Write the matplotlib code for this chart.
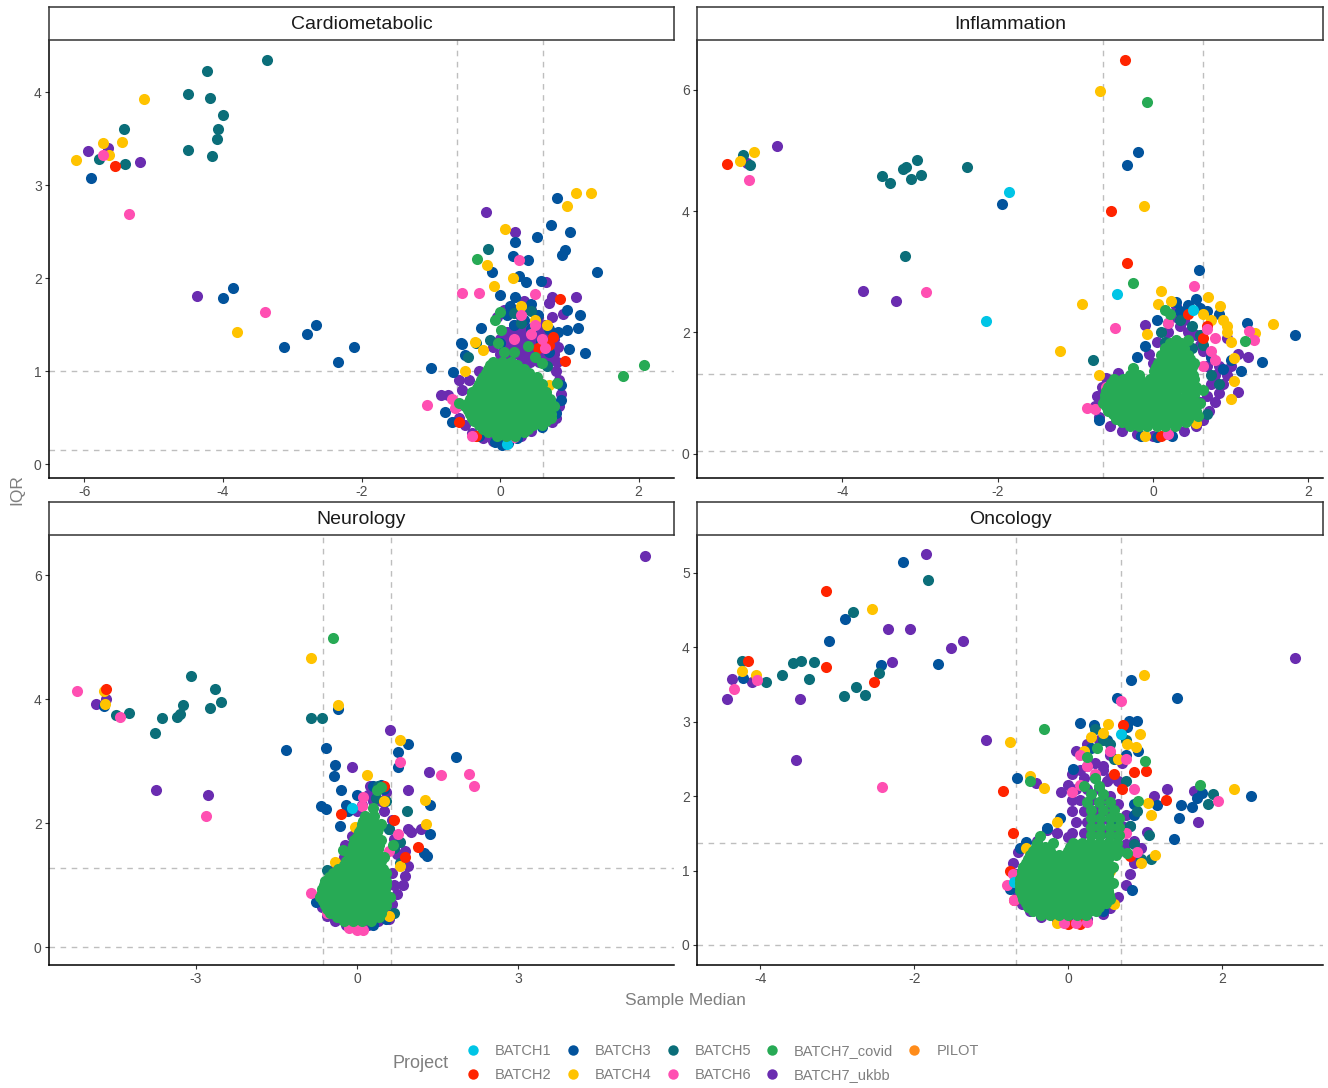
import matplotlib
matplotlib.use("Agg")
import matplotlib.pyplot as plt
from matplotlib.lines import Line2D

plt.rcParams["font.family"] = ["Liberation Sans", "DejaVu Sans"]
plt.rcParams["axes.unicode_minus"] = False

# legend order and colours (ggplot-like palette)
batches = ["BATCH1", "BATCH2", "BATCH3", "BATCH4", "BATCH5", "BATCH6",
           "BATCH7_covid", "BATCH7_ukbb", "PILOT"]
batch_colors = ["#00C5E6", "#FF2400", "#02539C", "#FFC300", "#0B6E79",
                "#FF4FB2", "#27AA55", "#6A2CB0", "#FF8C1A"]

# ---------------- Cardiometabolic ----------------
cm_vlines = [-0.62, 0.62]
cm_hlines = [0.15, 1.0]
cm_b1 = [(0.10, 0.22)]
cm_b2 = [(-5.56, 3.20), (0.86, 1.78), (0.93, 1.11), (0.76, 1.37), (-0.60, 0.45),
         (0.55, 1.25), (0.70, 1.28), (-0.35, 0.30)]
cm_b3 = [(-5.90, 3.08), (-4.00, 1.79), (-3.86, 1.89), (-3.12, 1.26), (-2.79, 1.40),
         (-2.66, 1.49), (-2.34, 1.10), (-2.11, 1.26), (-1.00, 1.03), (-0.56, 1.30),
         (-0.68, 0.99), (0.22, 2.39), (0.54, 2.44), (0.74, 2.57), (1.01, 2.49),
         (0.82, 2.86), (0.19, 2.24), (0.41, 2.19), (0.90, 2.25), (0.94, 2.30),
         (1.40, 2.06), (-0.11, 2.06), (0.28, 2.02), (0.38, 1.96), (0.59, 1.97),
         (0.00, 1.82), (0.22, 1.80), (1.16, 1.60), (0.97, 1.66), (-0.27, 1.46),
         (-0.50, 1.17), (1.12, 1.46), (0.97, 1.44), (0.84, 1.42), (1.22, 1.19),
         (1.00, 1.24), (0.88, 0.85), (0.88, 0.69), (0.59, 1.31), (-0.55, 1.29),
         (-0.79, 0.56), (-0.70, 0.45), (0.03, 0.20), (-0.08, 0.24), (0.12, 0.23),
         (0.25, 0.28), (-0.30, 0.30), (0.60, 0.40), (0.80, 0.55), (0.70, 1.20),
         (0.45, 1.45), (0.00, 1.30), (0.15, 1.70), (0.30, 1.65), (0.45, 1.72),
         (0.10, 1.60), (0.35, 1.55), (0.55, 1.60), (0.20, 1.50), (0.70, 1.45)]
cm_b4 = [(-6.12, 3.27), (-5.73, 3.45), (-5.64, 3.32), (-5.46, 3.46), (-5.14, 3.93),
         (-3.79, 1.42), (0.07, 2.53), (1.10, 2.91), (1.31, 2.91), (0.97, 2.77),
         (-0.19, 2.14), (-0.09, 1.92), (0.18, 2.00), (0.67, 1.50), (-0.36, 1.31),
         (-0.24, 1.23), (0.50, 1.55), (0.70, 0.85), (-0.50, 1.00), (0.30, 1.70)]
cm_b5 = [(-5.79, 3.28), (-5.43, 3.60), (-5.42, 3.23), (-4.51, 3.98), (-4.23, 4.23),
         (-4.18, 3.94), (-4.00, 3.75), (-4.07, 3.60), (-4.09, 3.50), (-4.50, 3.38),
         (-4.16, 3.31), (-3.37, 4.35), (-0.18, 2.31), (-0.14, 1.33), (-0.46, 1.15),
         (0.20, 1.62), (0.45, 1.65), (-0.35, 1.30), (0.68, 1.05), (0.30, 1.52)]
cm_b6 = [(-5.73, 3.32), (-5.35, 2.69), (-3.39, 1.64), (-1.05, 0.64), (-0.55, 1.84),
         (-0.30, 1.84), (0.51, 1.83), (0.27, 2.19), (0.30, 1.60), (0.45, 1.40),
         (0.60, 1.35), (0.20, 1.35), (0.65, 1.25), (-0.65, 0.60), (-0.40, 0.30),
         (0.20, 0.29), (-0.70, 0.70), (0.50, 1.50)]
cm_ukbb = [(-5.94, 3.37), (-5.66, 3.40), (-5.69, 3.33), (-5.20, 3.25), (-4.37, 1.81),
           (-0.21, 2.71), (0.21, 2.49), (0.66, 1.96), (1.10, 1.80), (0.70, 1.73),
           (0.91, 1.61), (-0.85, 0.74), (-0.75, 0.74), (-0.62, 0.62), (-0.60, 0.50),
           (-0.55, 0.80), (-0.50, 0.42), (-0.45, 0.90), (-0.40, 0.33), (-0.30, 1.00),
           (-0.60, 0.90), (-0.25, 0.28), (-0.10, 0.25), (0.10, 0.27), (0.30, 0.30),
           (0.45, 0.36), (0.60, 0.42), (0.80, 0.50), (0.85, 0.62), (0.88, 0.75),
           (0.85, 0.90), (0.80, 1.00), (0.75, 0.45), (0.75, 1.80), (0.35, 1.75)]
cm_ukbb_rows = [
    (1.10, [0.30, 0.43, 0.56, 0.69, 0.82]),
    (1.18, [0.00, 0.13, 0.26, 0.39, 0.52, 0.65, 0.78]),
    (1.26, [-0.10, 0.06, 0.19, 0.32, 0.45, 0.58, 0.71, 0.84]),
    (1.34, [0.00, 0.13, 0.26, 0.39, 0.52, 0.65, 0.78]),
    (1.42, [0.10, 0.23, 0.36, 0.49, 0.62]),
    (1.50, [0.20, 0.35, 0.50, 0.65]),
    (1.58, [-0.05, 0.30, 0.55, 0.75]),
    (1.66, [0.05, 0.25, 0.45]),
]
cm_covid = [(-0.59, 0.66), (0.00, 1.64), (0.01, 1.44), (-0.03, 1.30), (0.41, 1.27),
            (0.60, 1.09), (0.82, 0.87), (0.05, 1.20), (0.20, 1.20), (-0.07, 1.55),
            (0.72, 0.60), (0.50, 1.15), (1.77, 0.95), (2.08, 1.07), (-0.33, 2.21)]
cm_covid_rows = [
    (0.30, [-0.05, 0.08, 0.21]),
    (0.34, [-0.18, -0.05, 0.08, 0.21, 0.34]),
    (0.38, [-0.25, -0.12, 0.01, 0.14, 0.27, 0.40]),
    (0.42, [-0.31, -0.18, -0.05, 0.08, 0.21, 0.34, 0.47, 0.60]),
    (0.46, [-0.38, -0.25, -0.12, 0.01, 0.14, 0.27, 0.40, 0.53, 0.66]),
    (0.50, [-0.41, -0.28, -0.15, -0.02, 0.11, 0.24, 0.37, 0.50, 0.63, 0.74]),
    (0.54, [-0.44, -0.31, -0.18, -0.05, 0.08, 0.21, 0.34, 0.47, 0.60, 0.73]),
    (0.58, [-0.47, -0.34, -0.21, -0.08, 0.05, 0.18, 0.31, 0.44, 0.57, 0.70]),
    (0.62, [-0.50, -0.38, -0.25, -0.12, 0.01, 0.14, 0.27, 0.40, 0.53, 0.66, 0.78]),
    (0.66, [-0.47, -0.34, -0.21, -0.08, 0.05, 0.18, 0.31, 0.44, 0.57, 0.70]),
    (0.70, [-0.44, -0.31, -0.18, -0.05, 0.08, 0.21, 0.34, 0.47, 0.60, 0.72]),
    (0.74, [-0.40, -0.27, -0.14, -0.01, 0.12, 0.25, 0.38, 0.51, 0.64]),
    (0.78, [-0.40, -0.25, -0.12, 0.01, 0.14, 0.27, 0.40, 0.53, 0.66]),
    (0.82, [-0.34, -0.21, -0.08, 0.05, 0.18, 0.31, 0.44, 0.57]),
    (0.86, [-0.31, -0.18, -0.05, 0.08, 0.21, 0.34, 0.47, 0.60]),
    (0.90, [-0.28, -0.15, -0.02, 0.11, 0.24, 0.37, 0.50]),
    (0.94, [-0.25, -0.12, 0.01, 0.14, 0.27, 0.40, 0.53]),
    (0.98, [-0.21, -0.08, 0.05, 0.18, 0.31, 0.42]),
    (1.02, [-0.18, -0.05, 0.08, 0.21, 0.34]),
    (1.06, [-0.14, -0.01, 0.12, 0.25]),
    (1.10, [-0.10, 0.03, 0.16]),
]

# ---------------- Inflammation ----------------
inf_vlines = [-0.64, 0.65]
inf_hlines = [0.05, 1.32]
inf_b1 = [(-1.85, 4.31), (-2.15, 2.19), (-0.46, 2.63), (0.52, 2.37)]
inf_b2 = [(-5.48, 4.78), (-0.36, 6.49), (-0.54, 4.00), (-0.33, 3.14), (0.45, 2.30),
          (0.70, 2.10), (0.65, 1.90), (0.10, 0.30)]
inf_b3 = [(-1.94, 4.11), (-0.19, 4.97), (-0.34, 4.76), (0.59, 3.03), (1.83, 1.95),
          (1.40, 1.52), (1.21, 2.16), (1.13, 1.36), (-0.10, 1.77), (0.30, 2.50),
          (0.45, 2.45), (0.60, 2.40), (0.70, 2.35), (0.85, 2.30), (0.55, 2.55),
          (0.75, 1.60), (1.00, 1.55), (-0.20, 1.60), (0.35, 2.35), (0.05, 2.20),
          (0.90, 1.40), (-0.15, 0.30), (0.05, 0.28), (0.25, 0.30), (-0.70, 0.55)]
inf_b4 = [(-5.32, 4.82), (-5.14, 4.98), (-1.19, 1.69), (-0.91, 2.47), (-0.68, 5.98),
          (-0.11, 4.09), (0.10, 2.68), (0.71, 2.59), (0.86, 2.44), (1.54, 2.14),
          (1.31, 1.99), (1.05, 1.57), (-0.08, 1.98), (0.06, 2.46), (0.23, 2.51),
          (0.90, 2.20), (0.95, 2.10), (0.95, 2.00), (1.00, 1.85), (0.65, 2.30),
          (0.75, 2.20), (1.05, 1.20), (1.00, 0.90), (0.55, 0.50), (-0.70, 1.30),
          (-0.10, 0.30)]
inf_b5 = [(-5.28, 4.93), (-5.19, 4.76), (-3.49, 4.58), (-3.39, 4.47), (-3.22, 4.70),
          (-3.18, 4.72), (-3.11, 4.53), (-3.04, 4.84), (-2.98, 4.60), (-2.39, 4.72),
          (-3.19, 3.26), (-0.77, 1.55), (0.10, 2.00), (0.20, 2.15), (0.35, 2.20),
          (0.50, 2.10), (0.60, 1.95), (0.65, 1.80), (0.50, 1.75), (0.15, 1.85),
          (0.75, 1.30), (0.85, 1.15), (0.70, 0.65)]
inf_b6 = [(-5.20, 4.51), (-2.92, 2.66), (-0.49, 2.07), (0.53, 2.76), (1.24, 2.03),
          (1.30, 1.88), (0.80, 1.90), (0.75, 1.70), (0.80, 1.55), (0.65, 1.45),
          (0.70, 2.05), (-0.85, 0.75), (-0.75, 0.73), (-0.60, 1.10), (0.20, 0.32),
          (0.20, 2.16)]
inf_ukbb = [(-5.28, 4.84), (-5.23, 4.80), (-4.84, 5.07), (-3.73, 2.69), (-3.31, 2.52),
            (1.09, 1.01), (1.23, 1.60), (1.09, 1.64), (0.96, 1.91), (-0.10, 2.13),
            (0.30, 2.43), (-0.55, 0.45), (-0.40, 0.38), (-0.20, 0.33), (0.00, 0.30),
            (0.20, 0.32), (0.40, 0.38), (0.55, 0.45), (-0.75, 0.78), (-0.72, 0.95),
            (-0.70, 0.60), (-0.65, 1.10), (-0.60, 1.25), (-0.45, 1.33), (0.65, 0.55),
            (0.72, 0.70), (0.80, 0.85), (0.70, 0.95), (0.85, 1.00), (0.75, 1.15),
            (0.90, 1.15), (0.95, 1.30), (0.80, 1.30), (0.70, 1.45), (0.85, 1.45),
            (1.00, 1.45), (0.75, 1.60), (0.65, 1.70), (0.00, 1.50), (-0.05, 1.65),
            (0.05, 1.85), (0.20, 2.00), (0.35, 2.10), (0.45, 2.00), (0.55, 1.95),
            (0.60, 1.80), (0.30, 2.25), (0.40, 2.20), (0.60, 0.85)]
inf_ukbb_rows = []
inf_covid = [(-0.07, 5.80), (-0.26, 2.82), (1.18, 1.86), (0.16, 2.37), (0.65, 1.05),
             (0.58, 0.62), (-0.25, 1.41), (0.22, 2.30)]
inf_covid_rows = [
    (0.45, [-0.30, -0.18, -0.07, 0.05, 0.16, 0.28]),
    (0.52, [-0.40, -0.28, -0.16, -0.04, 0.08, 0.20, 0.32, 0.42]),
    (0.58, [-0.48, -0.36, -0.24, -0.13, -0.01, 0.10, 0.22, 0.33, 0.45]),
    (0.65, [-0.52, -0.41, -0.30, -0.18, -0.07, 0.05, 0.16, 0.28, 0.39, 0.50]),
    (0.71, [-0.58, -0.47, -0.36, -0.24, -0.13, -0.01, 0.10, 0.22, 0.33, 0.45, 0.55]),
    (0.78, [-0.60, -0.49, -0.38, -0.27, -0.15, -0.04, 0.08, 0.19, 0.30, 0.42, 0.53]),
    (0.84, [-0.64, -0.52, -0.41, -0.30, -0.18, -0.07, 0.05, 0.16, 0.28, 0.39, 0.50, 0.60]),
    (0.91, [-0.62, -0.51, -0.40, -0.28, -0.17, -0.05, 0.06, 0.18, 0.29, 0.41, 0.52]),
    (0.97, [-0.62, -0.50, -0.39, -0.27, -0.16, -0.04, 0.07, 0.19, 0.30, 0.42, 0.53]),
    (1.04, [-0.60, -0.49, -0.38, -0.27, -0.15, -0.04, 0.08, 0.19, 0.30, 0.42, 0.53]),
    (1.10, [-0.58, -0.47, -0.36, -0.24, -0.13, -0.01, 0.10, 0.22, 0.33, 0.45, 0.55]),
    (1.17, [-0.54, -0.43, -0.32, -0.20, -0.09, 0.03, 0.14, 0.26, 0.37, 0.48]),
    (1.23, [-0.50, -0.39, -0.27, -0.16, -0.04, 0.07, 0.19, 0.30, 0.42, 0.53]),
    (1.30, [-0.30, -0.18, 0.05, 0.17, 0.28, 0.40, 0.52]),
    (1.36, [0.02, 0.13, 0.25, 0.36, 0.48]),
    (1.43, [0.04, 0.15, 0.27, 0.38, 0.50]),
    (1.49, [0.07, 0.19, 0.30, 0.42, 0.53]),
    (1.56, [0.12, 0.24, 0.36, 0.48]),
    (1.62, [0.10, 0.22, 0.33, 0.45]),
    (1.69, [0.16, 0.28, 0.40]),
    (1.75, [0.15, 0.28, 0.40]),
    (1.82, [0.22, 0.36]),
    (1.88, [0.30, 0.45]),
]

# ---------------- Neurology ----------------
neu_vlines = [-0.63, 0.63]
neu_hlines = [0.0, 1.28]
neu_b1 = [(-0.10, 2.25)]
neu_b2 = [(-4.68, 4.17), (-0.30, 2.15), (1.13, 1.61), (0.50, 2.60), (0.70, 2.05),
          (0.90, 1.45)]
neu_b3 = [(-4.72, 3.89), (-1.32, 3.18), (-0.36, 3.84), (-0.57, 3.22), (-0.40, 2.94),
          (-0.43, 2.76), (-0.29, 2.54), (-0.67, 2.28), (-0.58, 2.23), (-0.17, 2.19),
          (-0.32, 1.95), (-0.77, 0.73), (0.96, 3.27), (0.77, 3.15), (0.77, 2.90),
          (1.85, 3.06), (1.37, 2.29), (1.36, 1.83), (1.25, 1.52), (1.31, 1.47),
          (0.30, 2.60), (0.45, 2.62), (0.50, 2.55), (-0.20, 2.30), (0.00, 2.45),
          (0.60, 1.90), (0.55, 0.45), (0.30, 0.35)]
neu_b4 = [(-4.72, 4.13), (-4.70, 3.92), (-0.86, 4.67), (-0.36, 3.91), (0.18, 2.77),
          (-0.04, 1.93), (-0.40, 1.38), (0.80, 3.34), (1.27, 2.38), (1.28, 1.98),
          (0.50, 2.35), (0.80, 1.30), (0.60, 0.50)]
neu_b5 = [(-4.50, 3.75), (-4.24, 3.77), (-3.77, 3.46), (-3.63, 3.69), (-3.35, 3.72),
          (-3.29, 3.76), (-3.25, 3.90), (-3.10, 4.38), (-2.73, 3.86), (-2.65, 4.16),
          (-2.54, 3.96), (-0.85, 3.70), (-0.65, 3.69), (0.94, 2.19), (0.35, 2.40),
          (0.55, 2.35), (0.40, 2.60), (0.70, 1.60), (0.80, 1.35), (0.60, 1.90),
          (-0.55, 1.25), (0.70, 0.55), (0.80, 1.70)]
neu_b6 = [(-5.21, 4.13), (-4.41, 3.72), (-2.81, 2.11), (-0.86, 0.88), (0.80, 2.99),
          (1.56, 2.78), (2.08, 2.79), (2.19, 2.60), (0.00, 0.28), (0.12, 0.27),
          (-0.15, 0.30), (-0.55, 0.55), (0.77, 1.83), (0.12, 2.42), (0.09, 2.27),
          (0.60, 1.55)]
neu_ukbb = [(-4.87, 3.93), (-4.68, 4.00), (-3.74, 2.54), (-2.78, 2.45), (-0.10, 2.91),
            (-0.23, 1.65), (0.62, 3.51), (1.34, 2.82), (0.95, 2.54), (1.19, 1.91),
            (5.37, 6.31), (0.55, 0.55), (0.65, 0.70), (0.75, 0.85), (0.85, 1.00),
            (0.90, 1.15), (0.95, 1.30), (0.85, 1.40), (0.75, 1.50), (0.90, 1.55),
            (0.70, 1.75), (1.00, 1.85), (0.95, 1.90), (0.65, 2.05), (0.45, 2.35),
            (0.50, 2.20), (0.30, 2.35), (0.20, 2.45), (0.55, 2.50), (0.10, 2.30),
            (0.00, 2.20), (-0.10, 1.80), (0.65, 1.20), (0.70, 1.00), (0.60, 0.45),
            (-0.65, 0.65), (-0.70, 0.80), (-0.55, 0.50), (-0.40, 0.42), (-0.20, 0.35),
            (0.00, 0.32), (0.20, 0.35), (0.40, 0.42), (-0.60, 1.05), (-0.45, 1.25),
            (-0.25, 1.45), (0.25, 2.60)]
neu_ukbb_rows = []
neu_covid = [(-0.44, 4.98), (0.37, 2.53), (0.45, 2.58), (-0.26, 1.56), (0.67, 1.65),
             (0.30, 2.25)]
neu_covid_rows = [
    (0.42, [-0.25, -0.08, 0.09, 0.26]),
    (0.48, [-0.38, -0.21, -0.04, 0.13, 0.30, 0.42]),
    (0.55, [-0.50, -0.33, -0.16, 0.01, 0.18, 0.35, 0.45]),
    (0.61, [-0.55, -0.38, -0.21, -0.04, 0.13, 0.30, 0.47]),
    (0.68, [-0.60, -0.43, -0.26, -0.09, 0.08, 0.25, 0.42, 0.55]),
    (0.74, [-0.64, -0.47, -0.30, -0.13, 0.04, 0.21, 0.38, 0.55]),
    (0.81, [-0.68, -0.51, -0.34, -0.17, 0.00, 0.17, 0.34, 0.51, 0.62]),
    (0.87, [-0.66, -0.49, -0.32, -0.15, 0.02, 0.19, 0.36, 0.53]),
    (0.94, [-0.66, -0.49, -0.32, -0.15, 0.02, 0.19, 0.36, 0.53]),
    (1.00, [-0.62, -0.45, -0.28, -0.11, 0.06, 0.23, 0.40, 0.55]),
    (1.07, [-0.60, -0.43, -0.26, -0.09, 0.08, 0.25, 0.42, 0.55]),
    (1.13, [-0.52, -0.35, -0.18, -0.01, 0.16, 0.33, 0.48]),
    (1.20, [-0.45, -0.28, -0.11, 0.06, 0.23, 0.40, 0.55]),
    (1.26, [-0.35, -0.18, -0.01, 0.16, 0.33, 0.48]),
    (1.33, [-0.25, -0.10, 0.07, 0.24, 0.41]),
    (1.39, [-0.20, -0.04, 0.13, 0.30, 0.45]),
    (1.46, [-0.15, 0.01, 0.18, 0.35, 0.50]),
    (1.52, [-0.12, 0.05, 0.22, 0.38]),
    (1.59, [-0.10, 0.08, 0.25, 0.40]),
    (1.65, [-0.07, 0.10, 0.27, 0.42]),
    (1.72, [-0.05, 0.12, 0.29, 0.45]),
    (1.78, [0.00, 0.17, 0.34]),
    (1.85, [0.04, 0.21, 0.38]),
    (1.91, [0.07, 0.24, 0.40]),
    (1.98, [0.10, 0.27, 0.44]),
    (2.04, [0.12, 0.29]),
    (2.11, [0.15, 0.32]),
]

# ---------------- Oncology ----------------
onc_vlines = [-0.675, 0.69]
onc_hlines = [0.0, 1.37]
onc_b1 = [(0.69, 2.83), (-0.70, 0.85)]
onc_b2 = [(-4.16, 3.81), (-3.15, 3.74), (-3.14, 4.76), (-2.52, 3.53), (-0.84, 2.07),
          (-0.72, 1.50), (0.71, 2.96), (0.85, 2.33), (1.01, 2.34), (1.27, 1.95),
          (0.60, 2.30), (0.70, 2.10), (-0.75, 1.00), (-0.70, 0.60), (0.15, 0.28),
          (0.00, 0.28), (0.80, 1.20)]
onc_b3 = [(-4.22, 3.59), (-3.10, 4.08), (-2.90, 4.38), (-2.43, 3.76), (-2.14, 5.15),
          (-1.69, 3.78), (-0.67, 2.25), (-0.10, 1.71), (-0.28, 1.57), (0.15, 2.98),
          (0.34, 2.96), (0.63, 3.32), (0.82, 3.56), (0.79, 3.01), (0.89, 3.01),
          (0.77, 2.93), (0.91, 2.61), (0.06, 2.36), (1.42, 3.32), (1.15, 1.88),
          (1.46, 1.88), (1.61, 1.85), (1.44, 1.71), (1.38, 1.43), (1.74, 2.04),
          (1.68, 1.98), (2.37, 2.00), (-0.62, 1.30), (-0.55, 1.38), (-0.75, 0.75),
          (0.10, 0.32), (-0.10, 0.32), (0.45, 0.45), (0.83, 0.74), (0.80, 1.60),
          (0.85, 1.75), (0.85, 1.90), (0.30, 2.65), (0.50, 2.75), (0.75, 2.55)]
onc_b4 = [(-4.23, 3.68), (-4.05, 3.63), (-2.55, 4.51), (-0.75, 2.73), (-0.49, 2.27),
          (-0.31, 2.11), (-0.14, 1.65), (0.52, 2.97), (0.98, 3.63), (0.93, 2.83),
          (0.76, 2.70), (0.88, 2.66), (1.04, 1.91), (1.08, 1.74), (2.15, 2.09),
          (1.13, 1.21), (0.30, 2.80), (0.45, 2.85), (0.20, 2.60), (0.65, 2.50),
          (0.55, 1.00), (0.60, 0.55), (-0.55, 1.30), (0.95, 1.10), (-0.15, 0.30)]
onc_b5 = [(-4.23, 3.81), (-3.93, 3.53), (-3.71, 3.63), (-3.57, 3.79), (-3.47, 3.81),
          (-3.30, 3.80), (-3.37, 3.57), (-2.80, 4.48), (-2.91, 3.34), (-2.76, 3.47),
          (-2.64, 3.36), (-2.46, 3.65), (-1.82, 4.91), (1.81, 1.89), (1.88, 2.03),
          (1.08, 1.15), (1.05, 1.48), (0.45, 2.75), (0.55, 2.70), (0.35, 2.90),
          (0.60, 2.50), (0.75, 2.20), (0.90, 1.80), (0.80, 1.60), (0.85, 1.35),
          (0.95, 1.15), (0.60, 1.70), (0.75, 2.75)]
onc_b6 = [(-4.34, 3.44), (-4.04, 3.56), (-2.42, 2.12), (0.69, 3.28), (1.94, 1.94),
          (0.25, 2.40), (0.35, 2.30), (0.15, 2.15), (0.05, 2.05), (0.75, 2.50),
          (0.85, 2.10), (-0.80, 0.80), (-0.72, 0.95), (-0.70, 0.60), (-0.05, 0.30),
          (0.10, 0.30), (0.25, 0.31), (0.75, 1.50), (0.90, 1.25), (0.55, 2.60),
          (0.15, 2.55)]
onc_ukbb = [(-4.43, 3.30), (-4.36, 3.57), (-4.11, 3.54), (-3.48, 3.30), (-3.53, 2.48),
            (-2.34, 4.25), (-2.29, 3.80), (-1.85, 5.25), (-2.05, 4.25), (-1.52, 3.99),
            (-1.37, 4.09), (-1.07, 2.76), (-0.42, 2.17), (-0.09, 2.05), (1.28, 2.09),
            (1.11, 2.00), (1.69, 1.65), (1.63, 2.07), (2.94, 3.85), (1.02, 1.52),
            (-0.70, 0.75), (-0.68, 0.95), (-0.60, 0.55), (-0.50, 0.45), (-0.35, 0.38),
            (-0.15, 0.33), (0.05, 0.33), (0.25, 0.35), (0.45, 0.42), (-0.72, 1.10),
            (-0.65, 1.25), (-0.28, 1.55), (-0.15, 1.50), (0.00, 1.45), (-0.40, 1.40),
            (0.55, 0.50), (0.65, 0.65), (0.75, 0.80), (0.80, 0.95), (0.85, 1.10),
            (0.90, 1.20), (0.75, 1.35), (0.85, 1.40), (0.65, 1.25), (0.60, 1.50),
            (0.70, 1.60), (0.75, 1.75), (0.60, 1.75), (0.65, 1.90), (0.55, 2.00),
            (0.50, 2.20), (0.45, 2.35), (0.35, 2.45), (0.15, 2.35), (0.05, 2.30),
            (0.00, 2.15), (0.05, 1.95), (0.10, 2.60), (0.25, 2.70), (0.40, 2.75),
            (0.55, 2.55), (0.70, 2.45), (0.65, 2.20), (0.95, 1.30)]
onc_ukbb_rows = [
    (1.50, [0.05, 0.20, 0.35, 0.50]),
    (1.65, [0.10, 0.25, 0.40, 0.55]),
    (1.80, [0.05, 0.20, 0.35, 0.50]),
    (1.95, [0.15, 0.30, 0.45]),
    (2.10, [0.10, 0.25, 0.40]),
    (2.25, [0.20, 0.35, 0.55]),
    (2.40, [0.25, 0.45]),
]
onc_covid = [(-0.50, 2.21), (-0.31, 2.90), (-0.36, 1.46), (1.00, 2.47), (0.91, 1.94),
             (1.71, 2.15), (0.37, 2.65), (0.24, 2.52), (0.76, 1.24), (0.48, 0.60)]
onc_covid_rows = [
    (0.40, [-0.35, -0.23, -0.12, 0.00, 0.12, 0.23]),
    (0.45, [-0.45, -0.33, -0.21, -0.09, 0.03, 0.15, 0.27, 0.36]),
    (0.51, [-0.52, -0.40, -0.29, -0.17, -0.06, 0.06, 0.18, 0.29, 0.40]),
    (0.56, [-0.55, -0.43, -0.32, -0.20, -0.09, 0.03, 0.15, 0.26, 0.38, 0.49]),
    (0.62, [-0.58, -0.46, -0.35, -0.23, -0.12, 0.00, 0.12, 0.23, 0.35, 0.46, 0.55]),
    (0.67, [-0.60, -0.49, -0.38, -0.26, -0.15, -0.03, 0.09, 0.20, 0.32, 0.43, 0.53]),
    (0.72, [-0.62, -0.52, -0.40, -0.29, -0.17, -0.06, 0.06, 0.18, 0.29, 0.40, 0.52]),
    (0.78, [-0.62, -0.52, -0.40, -0.29, -0.17, -0.06, 0.06, 0.18, 0.29, 0.40, 0.52]),
    (0.83, [-0.62, -0.46, -0.35, -0.23, -0.12, 0.00, 0.12, 0.23, 0.35, 0.46, 0.58]),
    (0.89, [-0.62, -0.52, -0.40, -0.29, -0.17, -0.06, 0.06, 0.18, 0.29, 0.40, 0.52]),
    (0.94, [-0.60, -0.52, -0.40, -0.29, -0.17, -0.06, 0.06, 0.18, 0.29, 0.40, 0.52]),
    (1.00, [-0.60, -0.49, -0.38, -0.26, -0.15, -0.03, 0.09, 0.20, 0.32, 0.43, 0.53]),
    (1.05, [-0.58, -0.46, -0.35, -0.23, -0.12, 0.00, 0.12, 0.23, 0.35, 0.46, 0.58]),
    (1.10, [-0.55, -0.43, -0.32, -0.20, -0.09, 0.03, 0.15, 0.26, 0.38, 0.49]),
    (1.15, [-0.52, -0.40, -0.29, -0.17, -0.06, 0.06, 0.18, 0.29, 0.40, 0.52]),
    (1.21, [-0.49, -0.38, -0.26, -0.12, 0.06, 0.18, 0.29, 0.40, 0.50, 0.62]),
    (1.26, [-0.46, -0.35, -0.23, 0.00, 0.12, 0.23, 0.35, 0.46, 0.55, 0.66]),
    (1.32, [-0.42, -0.30, 0.03, 0.15, 0.26, 0.38, 0.49, 0.62]),
    (1.37, [-0.40, -0.20, 0.06, 0.18, 0.29, 0.40, 0.52, 0.64]),
    (1.48, [0.30, 0.42, 0.54, 0.66]),
    (1.59, [0.30, 0.42, 0.54, 0.66]),
    (1.70, [0.30, 0.42, 0.54, 0.66]),
    (1.81, [0.30, 0.45, 0.60]),
    (1.92, [0.25, 0.40, 0.55]),
    (2.03, [0.30, 0.45]),
    (2.14, [0.20, 0.40]),
    (2.25, [0.35]),
]


def expand(points, rows):
    pts = list(points)
    for y, xs in rows:
        pts += [(x, y) for x in xs]
    return pts


W, H = 1328, 1088
fig = plt.figure(figsize=(W / 100, H / 100), dpi=100)


def px_axes(left, top, right, bottom):
    return fig.add_axes([left / W, 1 - bottom / H, (right - left) / W, (bottom - top) / H])


# title, series (in draw order), thresholds, limits, ticks, pixel box
panels = [
    ("Cardiometabolic",
     [("BATCH7_ukbb", expand(cm_ukbb, cm_ukbb_rows)), ("BATCH3", cm_b3), ("BATCH5", cm_b5),
      ("BATCH4", cm_b4), ("BATCH2", cm_b2), ("BATCH6", cm_b6), ("BATCH1", cm_b1),
      ("BATCH7_covid", expand(cm_covid, cm_covid_rows))],
     cm_vlines, cm_hlines, (-6.51, 2.51), (-0.15, 4.56), [-6, -4, -2, 0, 2], [0, 1, 2, 3, 4],
     (49, 40, 674, 478)),
    ("Inflammation",
     [("BATCH7_ukbb", expand(inf_ukbb, inf_ukbb_rows)), ("BATCH3", inf_b3), ("BATCH5", inf_b5),
      ("BATCH4", inf_b4), ("BATCH2", inf_b2), ("BATCH6", inf_b6), ("BATCH1", inf_b1),
      ("BATCH7_covid", expand(inf_covid, inf_covid_rows))],
     inf_vlines, inf_hlines, (-5.87, 2.19), (-0.40, 6.82), [-4, -2, 0, 2], [0, 2, 4, 6],
     (697, 40, 1323, 478)),
    ("Neurology",
     [("BATCH7_ukbb", expand(neu_ukbb, neu_ukbb_rows)), ("BATCH3", neu_b3), ("BATCH5", neu_b5),
      ("BATCH4", neu_b4), ("BATCH2", neu_b2), ("BATCH6", neu_b6), ("BATCH1", neu_b1),
      ("BATCH7_covid", expand(neu_covid, neu_covid_rows))],
     neu_vlines, neu_hlines, (-5.74, 5.91), (-0.29, 6.65), [-3, 0, 3], [0, 2, 4, 6],
     (49, 535, 674, 965)),
    ("Oncology",
     [("BATCH7_ukbb", expand(onc_ukbb, onc_ukbb_rows)), ("BATCH3", onc_b3), ("BATCH5", onc_b5),
      ("BATCH4", onc_b4), ("BATCH2", onc_b2), ("BATCH6", onc_b6), ("BATCH1", onc_b1),
      ("BATCH7_covid", expand(onc_covid, onc_covid_rows))],
     onc_vlines, onc_hlines, (-4.82, 3.31), (-0.27, 5.51), [-4, -2, 0, 2], [0, 1, 2, 3, 4, 5],
     (697, 535, 1323, 965)),
]

color_of = dict(zip(batches, batch_colors))
grey_text = "#7F7F7F"

for title, series, vl, hl, xlim, ylim, xt, yt, (l, t, r, b) in panels:
    ax = px_axes(l, t, r, b)
    for v in vl:
        ax.axvline(v, color="#BEBEBE", lw=1.0, ls=(0, (4, 4)), zorder=1)
    for h in hl:
        ax.axhline(h, color="#BEBEBE", lw=1.0, ls=(0, (4, 4)), zorder=1)
    for name, pts in series:
        xs = [p[0] for p in pts]
        ys = [p[1] for p in pts]
        ax.scatter(xs, ys, s=64, color=color_of[name], linewidths=0, zorder=2)
    ax.set_xlim(*xlim)
    ax.set_ylim(*ylim)
    ax.set_xticks(xt)
    ax.set_yticks(yt)
    for side in ("top", "right"):
        ax.spines[side].set_visible(False)
    for side in ("left", "bottom"):
        ax.spines[side].set_linewidth(1.1)
        ax.spines[side].set_color("black")
    ax.tick_params(length=2.75, width=0.8, color="#333333", labelsize=10,
                   labelcolor="#4D4D4D", pad=2.5)

    # facet strip
    sax = px_axes(l, t - 33, r, t)
    sax.set_xticks([])
    sax.set_yticks([])
    for sp in sax.spines.values():
        sp.set_linewidth(1.1)
        sp.set_color("#333333")
    sax.text(0.5, 0.48, title, ha="center", va="center", fontsize=14, color="#1A1A1A",
             transform=sax.transAxes)

fig.text(17 / W, 1 - 490 / H, "IQR", rotation=90, ha="center", va="center",
         fontsize=12.5, color=grey_text)
fig.text(685 / W, 1 - 1000 / H, "Sample Median", ha="center", va="center",
         fontsize=12.5, color=grey_text)

handles = [Line2D([], [], marker="o", linestyle="", markersize=7.5, color=c,
                  markeredgewidth=0) for c in batch_colors]
leg = fig.legend(handles, batches, ncol=5, loc="center left",
                 bbox_to_anchor=(466 / W, 1 - 1063 / H), frameon=False, fontsize=10.5,
                 handlelength=1.0, handletextpad=1.0, columnspacing=0.95,
                 labelspacing=0.7, borderpad=0, borderaxespad=0)
for txt in leg.get_texts():
    txt.set_color(grey_text)
fig.text(392 / W, 1 - 1063 / H, "Project", ha="left", va="center", fontsize=13,
         color=grey_text)

fig.savefig("out.png", dpi=100)
